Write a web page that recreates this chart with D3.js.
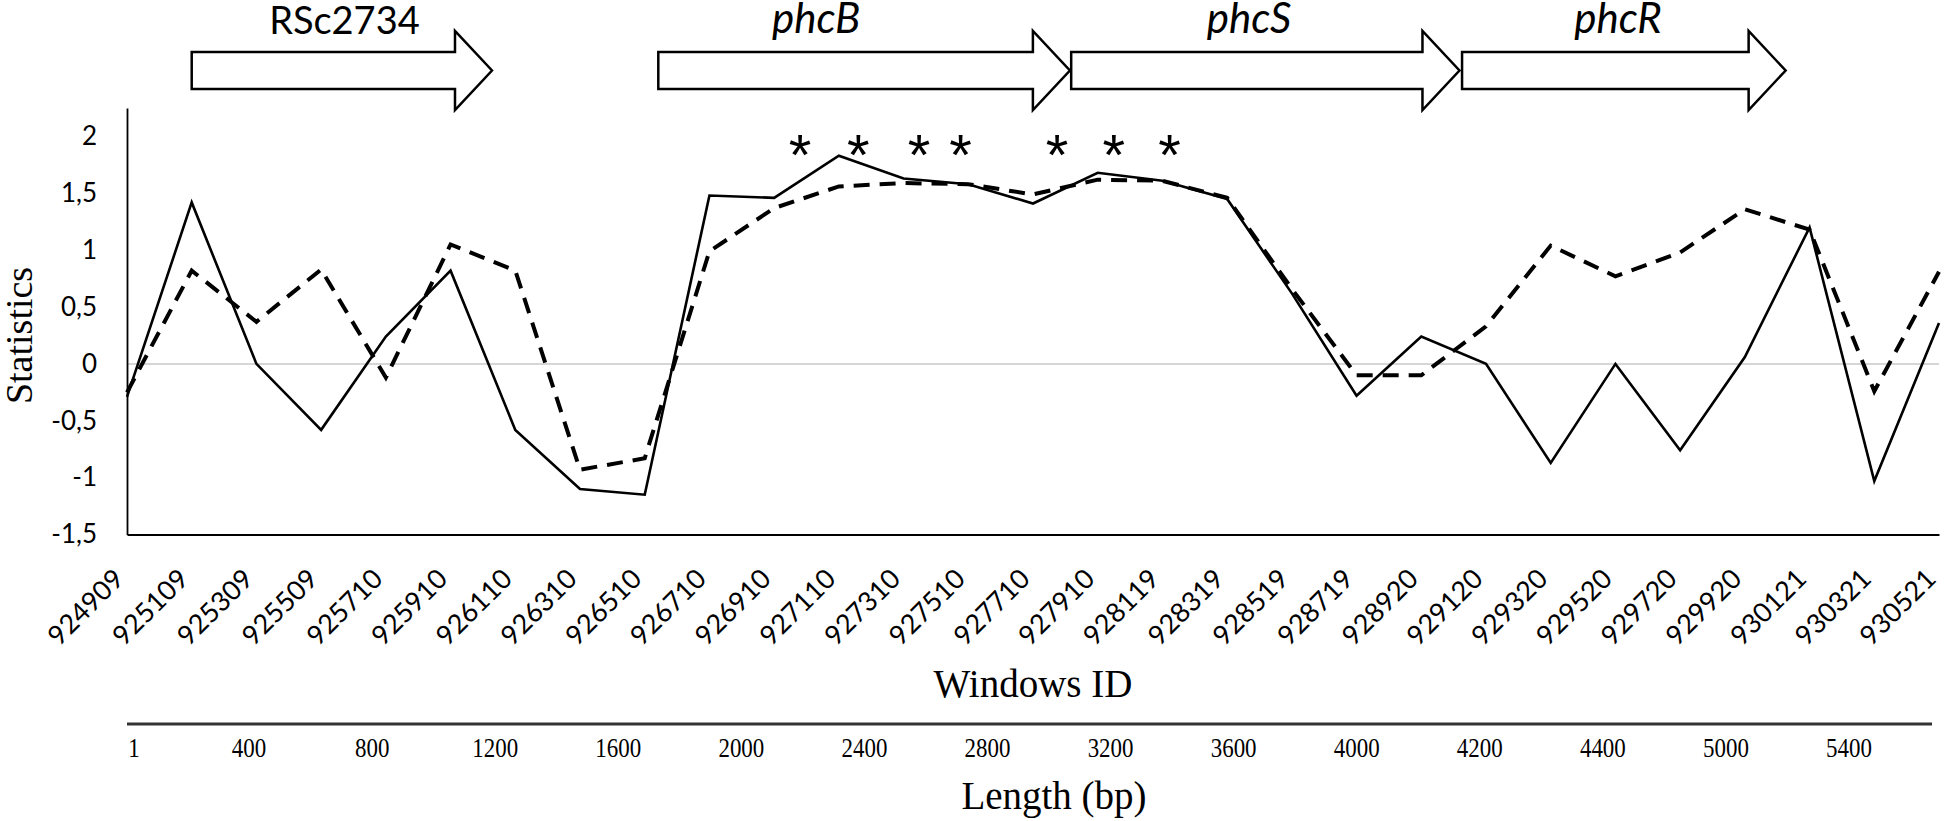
<!DOCTYPE html>
<html>
<head>
<meta charset="utf-8">
<script src="https://cdn.jsdelivr.net/npm/d3@7"></script>
<style>
  body { margin: 0; background: #fff; }
  svg { display: block; }
</style>
</head>
<body>
<svg id="chart"></svg>
<script>
// window start positions (category axis)
var windowIds = ["924909", "925109", "925309", "925509", "925710", "925910", "926110", "926310",
    "926510", "926710", "926910", "927110", "927310", "927510", "927710", "927910", "928119",
    "928319", "928519", "928719", "928920", "929120", "929320", "929520", "929720", "929920",
    "930121", "930321", "930521"];

// statistic per window, solid line
var solidStat = [-0.29, 1.42, 0.0, -0.58, 0.24, 0.82, -0.58, -1.10, -1.15, 1.48, 1.46, 1.83, 1.63,
    1.58, 1.41, 1.68, 1.61, 1.45, 0.62, -0.28, 0.24, 0.0, -0.87, 0.0, -0.76, 0.06, 1.20, -1.03, 0.36];

// statistic per window, dashed line
var dashedStat = [-0.25, 0.82, 0.37, 0.83, -0.12, 1.05, 0.82, -0.93, -0.83, 0.99, 1.37, 1.56, 1.59,
    1.58, 1.49, 1.62, 1.61, 1.46, 0.66, -0.10, -0.10, 0.33, 1.04, 0.77, 0.98, 1.36, 1.18, -0.24, 0.81];

var yTicks = [-1.5, -1, -0.5, 0, 0.5, 1, 1.5, 2];

// length axis under the chart
var bpLabels = ["1", "400", "800", "1200", "1600", "2000", "2400", "2800", "3200", "3600",
    "4000", "4200", "4400", "5000", "5400"];

// genes, start / tip in window index units, label position
var geneNames = ["RSc2734", "phcB", "phcS", "phcR"];
var geneStart = [1.0, 8.21, 14.59, 20.63];
var geneEnd = [5.64, 14.57, 20.59, 25.63];
var geneLabelAt = [3.36, 10.65, 17.34, 23.04];
var geneItalic = [false, true, true, true];

// significance marks (window index units)
var starAt = [10.4, 11.3, 12.24, 12.88, 14.37, 15.25, 16.11];

var W = 1946, H = 821;
var plotLeft = 127, plotRight = 1939, plotTop = 108, plotBottom = 534.5;

var svg = d3.select("#chart")
    .attr("width", W)
    .attr("height", H)
    .attr("viewBox", "0 0 " + W + " " + H);

svg.append("rect").attr("width", W).attr("height", H).attr("fill", "#fff");

var x = d3.scaleLinear().domain([0, windowIds.length - 1]).range([plotLeft, plotRight]);
var y = d3.scaleLinear().domain([-1.5, 2.25]).range([plotBottom, plotTop]);

var tickFont = "Lato, 'Open Sans', sans-serif";
var serif = "'Liberation Serif', 'DejaVu Serif', serif";

// zero line
svg.append("line")
    .attr("x1", x(0)).attr("x2", x(windowIds.length - 1))
    .attr("y1", y(0)).attr("y2", y(0))
    .attr("stroke", "#c9c9c9").attr("stroke-width", 1.5);

// y axis
var yAxis = svg.append("g")
    .attr("transform", "translate(" + plotLeft + ",0)")
    .call(d3.axisLeft(y).tickValues(yTicks).tickSize(0).tickPadding(30)
        .tickFormat(function(d){ return String(d).replace(".", ","); }));
yAxis.select(".domain").attr("stroke", "#000").attr("stroke-width", 1.8);
yAxis.selectAll("text")
    .attr("font-family", tickFont).attr("font-size", 26).attr("fill", "#000");

// x axis
var xAxis = svg.append("g")
    .attr("transform", "translate(0," + plotBottom + ")")
    .call(d3.axisBottom(x).tickValues(d3.range(windowIds.length)).tickSize(0)
        .tickFormat(function(i){ return windowIds[i]; }));
xAxis.select(".domain").attr("stroke", "#000").attr("stroke-width", 1.8);
xAxis.selectAll("text")
    .attr("font-family", tickFont).attr("font-size", 27).attr("fill", "#000")
    .attr("text-anchor", "end")
    .attr("y", 0)
    .attr("dy", 0)
    .attr("transform", "translate(-2,46) rotate(-45)");

// lines
var line = d3.line()
    .x(function(d, i){ return x(i); })
    .y(function(d){ return y(d); });

svg.append("path")
    .datum(dashedStat)
    .attr("d", line)
    .attr("fill", "none")
    .attr("stroke", "#000")
    .attr("stroke-width", 4)
    .attr("stroke-dasharray", "16,10");

svg.append("path")
    .datum(solidStat)
    .attr("d", line)
    .attr("fill", "none")
    .attr("stroke", "#000")
    .attr("stroke-width", 2.6);

// asterisks
svg.selectAll("text.star").data(starAt).enter().append("text")
    .attr("class", "star")
    .attr("x", function(d){ return x(d); })
    .attr("y", y(1.95) + 33)
    .attr("text-anchor", "middle")
    .attr("font-family", "'Liberation Sans', Arial, sans-serif")
    .attr("font-size", 58)
    .text("*");

// gene arrows
var shaftTop = 52, shaftBot = 89, headTop = 31, headBot = 110, headLen = 37;
var mid = (shaftTop + shaftBot) / 2;
svg.selectAll("path.gene").data(geneNames).enter().append("path")
    .attr("class", "gene")
    .attr("d", function(d, i){
        var x0 = x(geneStart[i]), x2 = x(geneEnd[i]), x1 = x2 - headLen;
        return "M" + x0 + "," + shaftTop + "H" + x1 + "V" + headTop + "L" + x2 + "," + mid +
            "L" + x1 + "," + headBot + "V" + shaftBot + "H" + x0 + "Z";
    })
    .attr("fill", "#fff")
    .attr("stroke", "#000")
    .attr("stroke-width", 2.5);

svg.selectAll("text.gene").data(geneNames).enter().append("text")
    .attr("class", "gene")
    .attr("x", function(d, i){ return x(geneLabelAt[i]); })
    .attr("y", function(d, i){ return geneItalic[i] ? 33 : 34; })
    .attr("text-anchor", "middle")
    .attr("font-family", tickFont)
    .attr("font-size", function(d, i){ return geneItalic[i] ? 42 : 38; })
    .attr("font-style", function(d, i){ return geneItalic[i] ? "italic" : "normal"; })
    .text(function(d){ return d; });

// axis titles
svg.append("text")
    .attr("transform", "translate(32," + y(0.25) + ") rotate(-90)")
    .attr("text-anchor", "middle")
    .attr("font-family", serif)
    .attr("font-size", 38)
    .text("Statistics");

svg.append("text")
    .attr("x", 1033).attr("y", 697)
    .attr("text-anchor", "middle")
    .attr("font-family", serif)
    .attr("font-size", 39)
    .text("Windows ID");

// length (bp) scale
var bp = d3.scalePoint().domain(bpLabels).range([126, 1849]);
svg.append("line")
    .attr("x1", plotLeft).attr("x2", 1932)
    .attr("y1", 724).attr("y2", 724)
    .attr("stroke", "#333").attr("stroke-width", 3);

svg.selectAll("text.bp").data(bpLabels).enter().append("text")
    .attr("class", "bp")
    .attr("transform", function(d, i){
        return "translate(" + (i === 0 ? 134 : bp(d)) + ",757) scale(0.85,1)";
    })
    .attr("text-anchor", "middle")
    .attr("font-family", serif)
    .attr("font-size", 27)
    .text(function(d){ return d; });

svg.append("text")
    .attr("x", 1054).attr("y", 809)
    .attr("text-anchor", "middle")
    .attr("font-family", serif)
    .attr("font-size", 39)
    .text("Length (bp)");
</script>
</body>
</html>
